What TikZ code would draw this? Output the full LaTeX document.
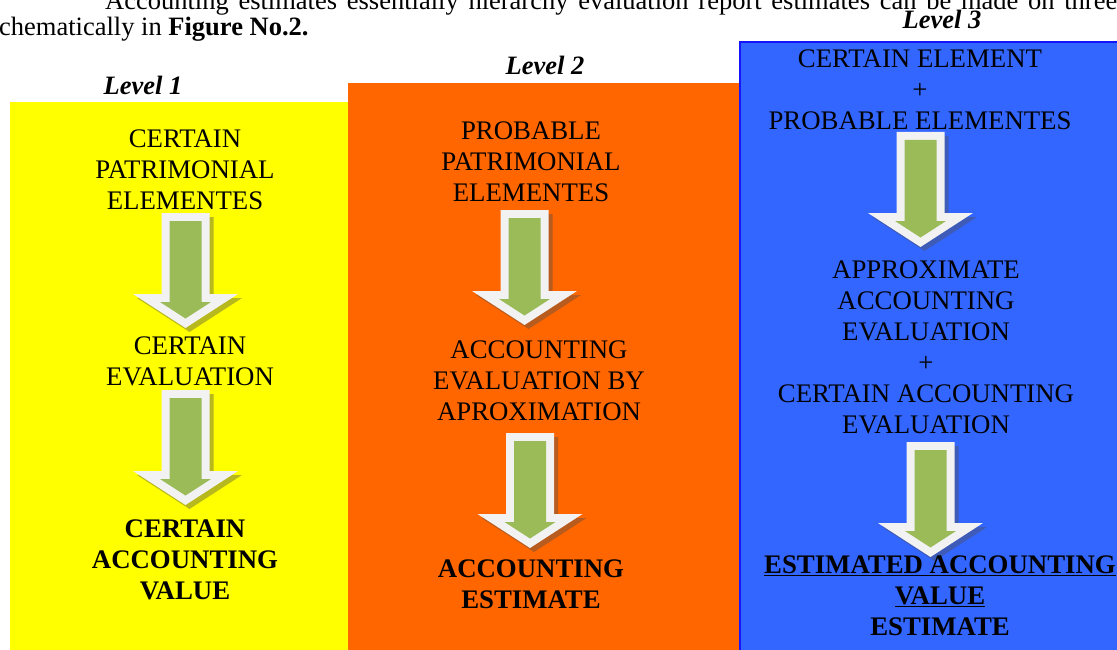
\documentclass[tikz,border=0pt]{standalone}
\usepackage{fontspec}
\setmainfont{Liberation Serif}
\usetikzlibrary{positioning}

\definecolor{lvlyellow}{RGB}{255,255,0}
\definecolor{lvlorange}{RGB}{255,102,0}
\definecolor{lvlblue}{RGB}{51,102,255}
\definecolor{lvlborder}{RGB}{20,20,255}
\definecolor{arrgreen}{RGB}{155,187,89}
\definecolor{arrwhite}{RGB}{242,242,242}

\begin{document}
\begin{tikzpicture}[
    x=1pt,y=-1pt,
    txt/.style={align=center,inner sep=0pt,font=\fontsize{26.8}{31}\selectfont},
    res/.style={txt,font=\fontsize{26.8}{31}\selectfont\bfseries},
    lvl/.style={anchor=base,inner sep=0pt,font=\fontsize{26.5}{31}\selectfont\bfseries\itshape},
    para/.style={anchor=base west,inner sep=0pt,font=\fontsize{26.5}{31}\selectfont},
    % block arrow pointing down, origin at the top of the shaft
    downarr/.pic={
        \fill[black!70,opacity=.4,shift={(4,4)}] (-24,0) -- (24,0) -- (24,81) -- (52.5,81)
            -- (0,115) -- (-52.5,81) -- (-24,81) -- cycle;
        \fill[arrwhite] (-24,0) -- (24,0) -- (24,81) -- (52.5,81)
            -- (0,115) -- (-52.5,81) -- (-24,81) -- cycle;
        \fill[arrgreen] (-16,8) -- (16,8) -- (16,89) -- (25.5,89)
            -- (0,105.5) -- (-25.5,89) -- (-16,89) -- cycle;
        \coordinate (-tip) at (0,115);
    }
]
\clip (0,0) rectangle (1117,650);

% surrounding text
\node[para] (intro) at (105,10) {\hbox to 1012pt{Accounting estimates essentially hierarchy evaluation report estimates can be made on three}};
\node[para] (figref) at (-1,35.5) {chematically in \textbf{Figure No.2.}};

% level panels
\fill[lvlyellow] (10,102) rectangle (348,660);
\fill[lvlorange] (348,83) rectangle (739,660);
\filldraw[fill=lvlblue,draw=lvlborder,line width=2.5pt] (740,42) rectangle (1130,660);

\node[lvl] (lvlA) at (143,95) {Level 1};
\node[lvl] (lvlB) at (545,75) {Level 2};
\node[lvl] (lvlC) at (942,29) {Level 3};

% level 1
\node[txt] (certelem) at (185,170) {CERTAIN\\PATRIMONIAL\\ELEMENTES};
\pic (arrA) at (185.5,213) {downarr};
\node[txt] (certeval) at (190,361) {CERTAIN\\EVALUATION};
\pic (arrB) at (185.5,390) {downarr};
\node[res] (certval) at (185,560) {CERTAIN\\ACCOUNTING\\VALUE};

% level 2
\node[txt] (probelem) at (531,162) {PROBABLE\\PATRIMONIAL\\ELEMENTES};
\pic (arrC) at (524.5,210) {downarr};
\node[txt] (approxeval) at (539,381) {ACCOUNTING\\EVALUATION BY\\APROXIMATION};
\pic (arrD) at (530,433) {downarr};
\node[res] (accest) at (531,584) {ACCOUNTING\\ESTIMATE};

% level 3
\node[txt] (mixelem) at (920,90) {CERTAIN ELEMENT\\+\\PROBABLE ELEMENTES};
\pic (arrE) at (920.5,132) {downarr};
\node[txt] (mixeval) at (926,347) {APPROXIMATE\\ACCOUNTING\\EVALUATION\\+\\CERTAIN ACCOUNTING\\EVALUATION};
\pic (arrF) at (930.5,442) {downarr};
\node[res] (estval) at (940,596) {\underline{ESTIMATED ACCOUNTING}\\\underline{VALUE}\\ESTIMATE};
\end{tikzpicture}
\end{document}
